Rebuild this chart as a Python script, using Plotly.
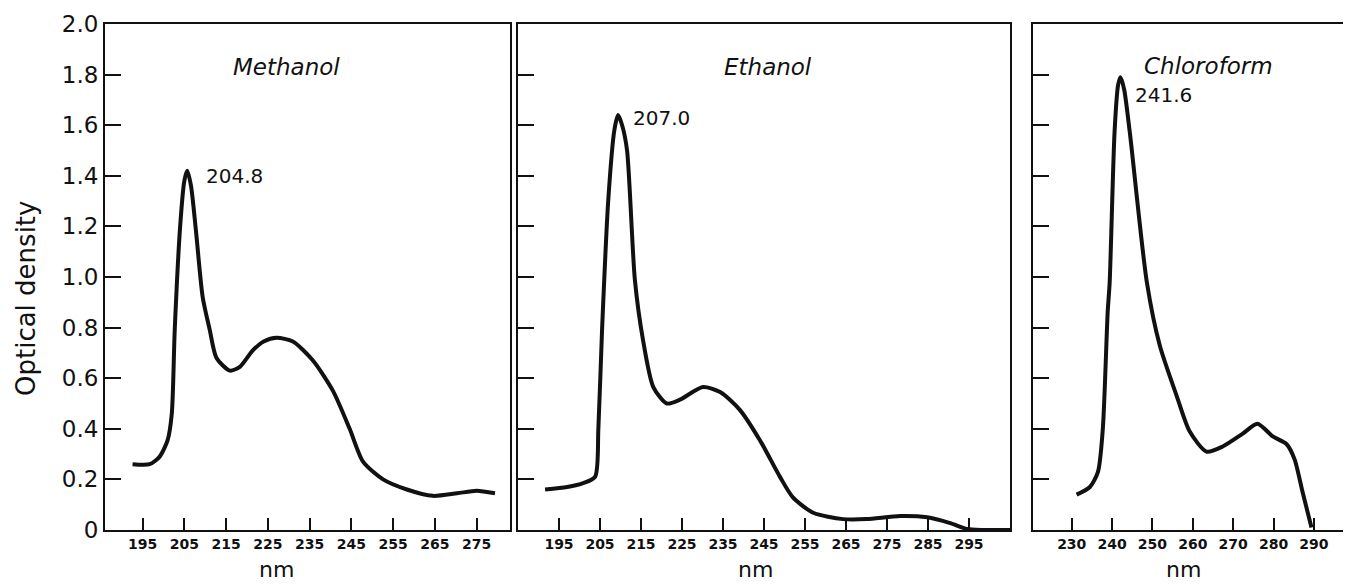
import plotly.graph_objects as go

# ---- data ----
meth_nm = [192.6, 196.7, 199.1, 201.0, 202.0, 202.7, 204.0, 205.0, 205.7, 206.6, 207.8, 209.4, 211.1, 212.7, 215.9, 218.3, 221.4, 224.0, 227.1, 231.0, 235.8, 240.6, 244.6, 247.8, 252.6, 258.3, 264.5, 270.3, 275.0, 279.4]
meth_od = [0.26, 0.26, 0.29, 0.355, 0.46, 0.79, 1.20, 1.38, 1.42, 1.36, 1.18, 0.92, 0.79, 0.68, 0.63, 0.645, 0.71, 0.745, 0.76, 0.745, 0.67, 0.55, 0.40, 0.27, 0.20, 0.16, 0.135, 0.145, 0.155, 0.145]

eth_nm = [191.6, 197.0, 200.9, 203.8, 204.6, 205.5, 207.0, 208.5, 209.4, 210.4, 211.6, 213.5, 215.5, 218.0, 221.3, 224.5, 230.1, 234.3, 239.1, 244.0, 248.9, 252.0, 257.0, 264.3, 270.0, 278.2, 284.8, 290.4, 294.5, 298.4, 305.0]
eth_od = [0.16, 0.17, 0.185, 0.21, 0.40, 0.79, 1.30, 1.58, 1.64, 1.60, 1.50, 0.99, 0.75, 0.565, 0.50, 0.515, 0.565, 0.545, 0.475, 0.355, 0.21, 0.13, 0.068, 0.043, 0.043, 0.055, 0.05, 0.027, 0.004, 0.0, 0.0]

chl_nm = [231.2, 234.5, 236.5, 237.7, 238.9, 239.4, 240.6, 241.5, 242.1, 243.0, 244.4, 248.6, 251.8, 256.0, 259.2, 263.4, 267.4, 272.3, 276.0, 279.8, 283.2, 285.2, 287.2, 289.4]
chl_od = [0.14, 0.17, 0.23, 0.40, 0.86, 0.98, 1.57, 1.76, 1.79, 1.74, 1.57, 0.98, 0.73, 0.53, 0.39, 0.31, 0.33, 0.38, 0.42, 0.37, 0.34, 0.28, 0.15, 0.01]

y_ticks = [0, 0.2, 0.4, 0.6, 0.8, 1.0, 1.2, 1.4, 1.6, 1.8, 2.0]
y_tick_text = ["0", "0.2", "0.4", "0.6", "0.8", "1.0", "1.2", "1.4", "1.6", "1.8", "2.0"]
x1_ticks = [195, 205, 215, 225, 235, 245, 255, 265, 275]
x2_ticks = [195, 205, 215, 225, 235, 245, 255, 265, 275, 285, 295]
x3_ticks = [230, 240, 250, 260, 270, 280, 290]

panels = ["Methanol", "Ethanol", "Chloroform"]
peak_labels = ["204.8", "207.0", "241.6"]

W, H = 1351, 585
OFF = 8  # page body margin compensation
FONT = "DejaVu Sans"
INK = "#111111"

fig = go.Figure()
line = dict(color=INK, width=4, shape="spline", smoothing=0.7)
fig.add_trace(go.Scatter(x=meth_nm, y=meth_od, mode="lines", line=line, xaxis="x", yaxis="y", showlegend=False, hoverinfo="skip"))
fig.add_trace(go.Scatter(x=eth_nm, y=eth_od, mode="lines", line=line, xaxis="x2", yaxis="y2", showlegend=False, hoverinfo="skip"))
fig.add_trace(go.Scatter(x=chl_nm, y=chl_od, mode="lines", line=line, xaxis="x3", yaxis="y3", showlegend=False, hoverinfo="skip"))

def px_x(p):
    return (p - OFF) / W

def px_y(p):
    return 1 - (p - OFF) / H

ydom = [px_y(530), px_y(24)]
tickfont = dict(family=FONT, size=14, color=INK, weight="bold")

def xaxis(dom, rng, ticks, anchor):
    return dict(domain=dom, range=rng, tickmode="array", tickvals=ticks,
                ticks="inside", ticklen=12, tickwidth=2, tickcolor=INK,
                showline=True, linecolor=INK, linewidth=2, mirror=True,
                showgrid=False, zeroline=False, tickfont=tickfont, anchor=anchor,
                automargin=False, fixedrange=True)

def yaxis(anchor, labels, mirror=True):
    return dict(domain=ydom, range=[0, 2.0], tickmode="array", tickvals=y_ticks,
                ticktext=y_tick_text, showticklabels=labels,
                ticks="inside", ticklen=16, tickwidth=2, tickcolor=INK,
                showline=True, linecolor=INK, linewidth=2, mirror=mirror,
                showgrid=False, zeroline=False, anchor=anchor, automargin=False,
                tickfont=dict(family=FONT, size=23, color=INK), fixedrange=True)

fig.update_layout(
    template="none",
    width=W, height=H,
    margin=dict(l=0, r=0, t=0, b=0, autoexpand=False),
    paper_bgcolor="white", plot_bgcolor="white",
    xaxis=xaxis([px_x(105), px_x(510)], [186, 283], x1_ticks, "y"),
    xaxis2=xaxis([px_x(518), px_x(1010)], [185, 305], x2_ticks, "y2"),
    xaxis3=xaxis([px_x(1033), 1.0], [220.4, 299.2 + OFF / 4.04], x3_ticks, "y3"),
    yaxis=yaxis("x", True),
    yaxis2=yaxis("x2", False),
    yaxis3=yaxis("x3", False, mirror=False),
)

ann = []
title_font = dict(family=FONT, size=23, color=INK, style="italic")
peak_font = dict(family=FONT, size=20, color=INK)
ann.append(dict(x=229.5, y=1.83, xref="x", yref="y", text=panels[0], showarrow=False, font=title_font, xanchor="center", yanchor="middle"))
ann.append(dict(x=246, y=1.83, xref="x2", yref="y2", text=panels[1], showarrow=False, font=title_font, xanchor="center", yanchor="middle"))
ann.append(dict(x=247.3, y=1.835, xref="x3", yref="y3", text=panels[2], showarrow=False, font=title_font, xanchor="left", yanchor="middle"))
ann.append(dict(x=209.8, y=1.40, xref="x", yref="y", text=peak_labels[0], showarrow=False, font=peak_font, xanchor="left", yanchor="middle"))
ann.append(dict(x=212.6, y=1.63, xref="x2", yref="y2", text=peak_labels[1], showarrow=False, font=peak_font, xanchor="left", yanchor="middle"))
ann.append(dict(x=245.3, y=1.72, xref="x3", yref="y3", text=peak_labels[2], showarrow=False, font=peak_font, xanchor="left", yanchor="middle"))
nm_font = dict(family=FONT, size=22, color=INK)
for cx in [276, 755, 1183]:
    ann.append(dict(x=px_x(cx), y=px_y(584), xref="paper", yref="paper", text="nm", showarrow=False, font=nm_font, xanchor="center", yanchor="bottom"))
ann.append(dict(x=px_x(26), y=px_y(299), xref="paper", yref="paper", text="Optical density", textangle=-90, showarrow=False,
                font=dict(family=FONT, size=26, color=INK), xanchor="center", yanchor="middle"))
fig.update_layout(annotations=ann)

fig.write_html("out.html")
